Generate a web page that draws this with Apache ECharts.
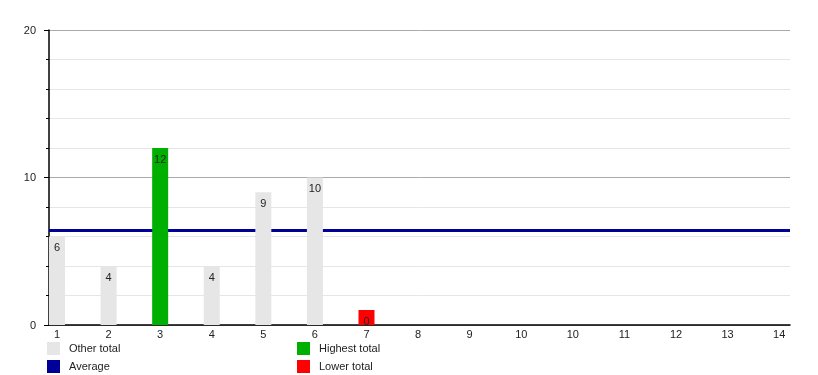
<!DOCTYPE html>
<html>
<head>
<meta charset="utf-8">
<script src="https://cdn.jsdelivr.net/npm/echarts@6/dist/echarts.min.js"></script>
<style>html,body{margin:0;padding:0;background:#fff}#c{width:818px;height:375px}</style>
</head>
<body>
<div id="c"></div>
<script>
const categories = ['1','2','3','4','5','6','7','8','9','10','10','11','12','13','14'];
const otherTotal   = [6, 4, null, 4, 9, 10, null];
const highestTotal = [null, null, 12, null, null, null, null];
const lowerTotal   = [null, null, null, null, null, null, 0];
const averageValue = 6.4;
const yTicks = [0, 10, 20];

const FONT = 'Liberation Sans, Arial, sans-serif';
function pairs(arr){ const out=[]; arr.forEach((v,i)=>{ if(v!==null) out.push([i,v]); }); return out; }
const labelCfg = {show:true, position:'insideTop', distance:6, color:'#222', fontSize:11, fontFamily:FONT};

const chart = echarts.init(document.getElementById('c'), null, {renderer:'canvas'});
chart.setOption({
  animation:false,
  backgroundColor:'#fff',
  grid:{left:49, right:28, top:30, bottom:50, containLabel:false},
  xAxis:{
    type:'value', min:-0.155, max:14.21,
    splitLine:{show:false},
    axisLine:{show:true, onZero:false, lineStyle:{color:'#000', width:1.5}},
    axisTick:{show:false},
    axisLabel:{show:true, customValues:categories.map((c,i)=>i), formatter:(v)=>categories[Math.round(v)], color:'#222', fontSize:11, fontFamily:FONT, margin:4, showMinLabel:true, showMaxLabel:true}
  },
  yAxis:{
    type:'value', min:yTicks[0], max:yTicks[yTicks.length-1], interval:10,
    axisLine:{show:true, onZero:false, lineStyle:{color:'#000', width:1.5}},
    axisTick:{show:true, length:5, lineStyle:{color:'#000'}},
    minorTick:{show:true, splitNumber:5, length:3, lineStyle:{color:'#000'}},
    splitLine:{show:true, lineStyle:{color:'#aaa', width:1}},
    minorSplitLine:{show:true, lineStyle:{color:'#e6e6e6', width:1}},
    axisLabel:{color:'#222', fontSize:11, fontFamily:FONT, margin:13, verticalAlign:'top', padding:[-5,0,0,0]}
  },
  legend:[
    {orient:'vertical', left:47, top:342, padding:0, itemWidth:13, itemHeight:13, itemGap:5,
     textStyle:{fontSize:11, fontFamily:FONT, color:'#222', padding:[0,0,0,4]},
     data:[{name:'Other total', icon:'rect'},{name:'Average', icon:'rect'}]},
    {orient:'vertical', left:297, top:342, padding:0, itemWidth:13, itemHeight:13, itemGap:5,
     textStyle:{fontSize:11, fontFamily:FONT, color:'#222', padding:[0,0,0,4]},
     data:[{name:'Highest total', icon:'rect'},{name:'Lower total', icon:'rect'}]}
  ],
  series:[
    {name:'Average', type:'line', data:[], z:1, itemStyle:{color:'#000099'}, lineStyle:{color:'#000099'},
     markLine:{silent:true, symbol:'none', z:1, label:{show:false}, lineStyle:{color:'#000099', width:3, type:'solid'},
       data:[{yAxis:averageValue}]}},
    {name:'Other total', type:'bar', stack:'t', barWidth:16, z:3, itemStyle:{color:'#e6e6e6'}, label:labelCfg, data:pairs(otherTotal)},
    {name:'Highest total', type:'bar', stack:'t', barWidth:16, z:3, itemStyle:{color:'#00b000'}, label:labelCfg, data:pairs(highestTotal)},
    {name:'Lower total', type:'bar', stack:'t', barWidth:16, barMinHeight:15, z:3, itemStyle:{color:'#ff0000'}, label:labelCfg, data:pairs(lowerTotal)}
  ]
});
</script>
</body>
</html>
